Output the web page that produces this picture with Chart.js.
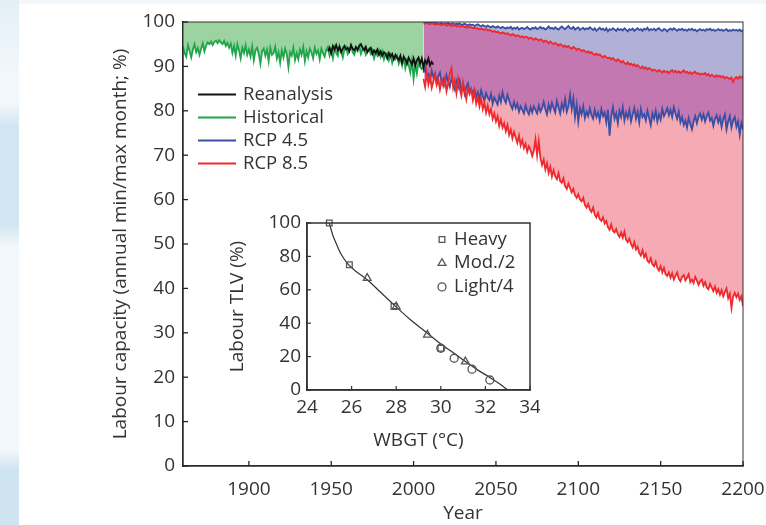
<!DOCTYPE html>
<html><head><meta charset="utf-8">
<script src="https://cdn.jsdelivr.net/npm/chart.js@4.4.1/dist/chart.umd.min.js"></script>
<style>
html,body{margin:0;padding:0;}
body{width:766px;height:525px;position:relative;overflow:hidden;background:#f1f7fb;}
#strip{position:absolute;left:0;top:0;width:19px;height:525px;
 background:linear-gradient(to bottom,#e3eff7 0px,#f1f7fb 70px,#f1f7fb 105px,#d2e6f2 125px,#d2e6f2 225px,#f1f7fb 245px,#f1f7fb 450px,#cfe4f1 470px,#cfe4f1 525px);}
#card{position:absolute;left:19px;top:4px;width:747px;height:521px;background:#fff;}
canvas{position:absolute;}
#main{left:0;top:0;}
#inset{left:220px;top:200px;}
</style></head><body>
<div id="strip"></div>
<div id="card"></div>
<canvas id="main" width="766" height="525"></canvas>
<canvas id="inset" width="320" height="255"></canvas>
<script>
// ---------------- data ----------------
const histStart = 1860;
const historical = [
 94.5,93.0,92.2,94.8,93.5,92.0,93.8,95.0,93.2,94.1,
 92.6,94.0,95.2,93.4,94.6,95.4,95.0,95.6,94.8,95.5,
 95.8,95.2,95.9,95.4,95.0,95.7,94.6,95.3,94.2,95.1,
 93.0,94.6,92.4,95.0,93.6,91.8,94.2,93.0,94.8,92.6,
 93.8,92.2,94.5,91.4,93.6,94.2,92.8,90.6,93.4,94.0,
 92.4,93.8,91.2,94.2,92.6,93.0,94.4,91.8,93.2,90.8,
 93.6,92.0,94.0,92.8,89.8,93.2,92.4,94.2,91.4,93.0,
 91.6,93.8,92.6,94.4,91.2,93.4,92.0,94.0,93.2,91.8,
 94.2,92.8,93.6,91.6,94.0,93.0,92.2,93.8,94.4,92.4,
 93.6,91.8,94.2,93.0,92.4,94.6,93.4,92.0,93.8,94.4,
 92.8,93.6,94.8,93.2,92.6,94.0,93.4,94.6,92.8,93.8,
 94.2,92.6,93.4,94.0,92.8,93.6,91.8,93.2,92.4,93.6,
 92.2,93.4,91.6,92.8,93.0,91.4,92.6,90.8,92.2,91.6,
 92.4,90.6,91.8,90.2,92.0,89.6,91.4,90.4,88.6,91.2,
 87.2,90.6,88.4,91.0,89.8,89.4,90.2
];
const reanStart = 1948;
const reanalysis = [
 93.4,94.2,93.0,94.6,93.8,94.8,93.6,94.4,93.2,94.0,
 94.6,93.8,94.2,93.4,94.8,94.0,93.6,94.4,93.8,94.6,
 95.0,94.2,93.6,94.4,93.2,93.8,94.2,92.8,93.6,93.0,
 93.8,92.6,93.4,92.4,93.2,92.8,91.8,93.0,92.2,92.8,
 91.6,92.6,92.0,91.4,92.4,90.8,92.2,91.6,90.6,92.0,
 91.2,90.4,91.8,90.2,91.4,92.0,90.6,91.8,89.8,91.4,
 90.6,91.8,90.2,91.0,90.4
];
const rcpStart = 2006;
const rcp45Max = [
 99.8,99.9,99.7,99.8,99.9,99.6,99.8,99.7,99.9,99.6,
 99.7,99.8,99.5,99.7,99.6,99.8,99.5,99.6,99.7,99.4,
 99.6,99.5,99.7,99.3,99.5,99.6,99.4,99.2,99.5,99.3,
 99.4,99.1,99.3,99.5,99.2,99.0,99.3,99.1,98.9,99.2,
 99.0,98.8,99.1,98.9,98.7,99.0,98.8,98.6,98.9,98.7,
 98.5,98.8,98.6,98.9,98.4,98.7,98.5,98.8,98.3,98.6,
 98.7,98.4,98.6,98.9,98.5,98.3,98.7,98.5,98.8,98.4,
 98.6,98.9,98.5,98.7,98.3,98.6,99.0,98.5,98.7,98.4,
 98.8,98.5,98.3,98.7,99.0,98.6,98.4,98.8,99.1,98.6,
 98.5,98.9,98.3,98.6,98.8,98.2,98.5,98.7,98.3,98.6,
 98.4,98.8,98.5,98.2,98.6,98.0,98.4,98.7,98.3,98.5,
 98.1,98.6,97.9,98.4,98.2,98.6,98.3,98.0,98.5,98.2,
 98.4,98.1,98.6,98.3,97.9,98.4,98.2,98.5,98.0,98.3,
 98.6,98.2,98.4,98.0,98.5,98.3,98.7,98.1,98.4,98.2,
 98.5,98.1,98.4,98.6,98.2,98.0,98.4,98.3,97.9,98.3,
 98.5,98.2,98.6,98.3,98.0,98.4,98.2,98.5,98.1,98.3,
 98.0,98.4,98.2,98.5,98.1,98.3,97.9,98.2,98.4,98.1,
 98.3,98.0,98.4,98.2,98.5,98.1,98.3,98.0,98.2,98.4,
 98.1,98.3,98.0,98.2,98.4,97.9,98.2,98.0,98.3,98.1,
 98.2,98.0,98.3,97.9,98.2
];
const rcp45Min = [
 88.6,89.8,87.4,88.2,86.8,89.0,87.6,88.4,86.2,87.8,
 88.6,86.4,87.2,85.8,88.0,86.6,85.4,87.4,86.0,84.8,
 86.6,85.2,86.8,84.6,85.6,83.8,85.4,86.2,84.2,85.0,
 83.6,84.8,83.2,84.2,82.6,84.6,83.4,82.2,84.0,83.0,
 82.4,83.8,81.6,83.0,82.2,81.4,83.4,82.0,84.2,82.6,
 81.8,83.6,82.4,81.2,80.4,82.0,80.6,81.6,79.8,81.0,
 80.2,79.4,81.2,80.0,79.2,80.8,79.6,81.0,80.2,79.4,
 81.2,79.8,80.6,82.0,80.4,79.2,81.4,80.0,81.8,80.6,
 79.6,82.2,80.8,79.4,81.6,80.2,82.6,79.8,81.0,83.6,
 80.4,82.8,78.6,81.4,77.6,80.6,79.2,81.0,78.4,79.8,
 78.8,80.6,79.0,78.2,80.2,78.6,79.6,77.8,80.4,78.8,
 79.6,77.4,80.2,74.4,78.8,80.8,78.2,79.4,77.2,80.0,
 78.6,80.8,77.8,79.6,78.4,80.2,77.6,79.2,80.6,78.2,
 79.8,77.4,80.4,78.6,79.2,77.8,80.0,78.4,76.8,79.4,
 78.2,80.0,77.6,79.2,78.0,80.4,78.8,79.6,80.6,79.0,
 80.2,78.6,80.8,79.4,78.2,79.8,77.4,78.6,76.8,77.8,
 76.2,78.4,77.0,75.8,77.6,78.8,77.2,78.6,79.4,78.0,
 79.2,77.6,78.8,79.6,77.8,78.4,76.6,78.2,79.0,77.4,
 78.6,76.4,78.2,79.2,75.8,77.6,78.8,76.2,77.8,78.6,
 76.4,77.6,74.6,77.2,75.8
];
const rcp85Max = [
 99.7,99.6,99.8,99.6,99.5,99.7,99.6,99.4,99.5,99.6,
 99.4,99.3,99.5,99.4,99.2,99.3,99.4,99.1,99.2,99.3,
 99.0,99.1,98.9,99.0,99.2,98.8,98.9,98.7,98.9,98.8,
 98.6,98.7,98.5,98.6,98.3,98.5,98.4,98.2,98.4,98.1,
 98.2,98.0,97.8,98.0,97.7,97.8,97.6,97.4,97.7,97.5,
 97.3,97.5,97.2,97.0,97.3,97.1,96.8,97.0,96.9,96.6,
 96.8,96.5,96.7,96.6,96.2,96.5,96.3,96.0,96.3,96.1,
 95.8,96.1,95.9,95.5,95.8,95.6,95.2,95.6,95.3,95.0,
 95.3,95.0,94.7,95.0,94.8,94.4,94.7,94.3,94.6,94.2,
 94.0,94.4,94.1,93.7,94.0,93.8,93.4,93.7,93.5,93.1,
 93.4,93.0,93.2,92.8,92.6,92.9,92.5,92.7,92.3,92.0,
 92.4,92.1,91.8,92.0,91.6,91.9,91.5,91.2,91.6,91.3,
 90.9,91.2,90.8,90.5,90.9,90.4,90.6,90.2,90.5,90.0,
 90.3,89.9,89.6,90.0,89.5,89.8,89.3,89.6,89.4,89.0,
 89.3,89.1,88.8,89.2,88.9,88.6,89.0,88.7,88.9,88.5,
 88.9,89.2,88.7,89.0,88.6,88.9,88.5,88.8,89.1,88.6,
 88.8,88.4,88.7,88.3,88.6,88.8,88.3,88.5,88.1,88.4,
 88.2,88.5,88.0,88.3,87.8,88.1,87.9,87.6,88.0,87.7,
 87.9,87.5,87.8,87.3,87.6,87.4,87.1,87.5,86.5,87.3,
 87.6,87.2,87.7,87.4,87.8
];
const rcp85Min = [
 87.2,85.4,88.6,86.0,87.8,85.2,86.6,88.2,85.8,87.0,
 84.8,86.8,85.6,87.4,84.4,86.2,88.4,89.6,85.2,86.8,
 84.0,87.2,85.0,83.4,86.4,84.6,82.6,85.2,83.8,84.8,
 82.4,84.4,81.6,83.2,81.0,82.8,80.4,81.8,79.6,81.2,
 79.2,80.4,78.2,79.4,77.6,78.8,76.6,78.0,76.2,77.2,
 75.4,76.8,74.6,75.8,73.8,75.2,74.0,72.8,74.4,72.2,
 73.4,71.6,72.6,70.8,72.0,71.2,69.8,71.0,73.6,70.0,
 73.2,69.4,67.8,69.0,66.8,68.2,66.0,67.4,65.2,66.6,
 65.2,64.6,66.0,64.2,63.8,64.8,63.0,62.4,63.6,62.6,
 61.6,62.4,61.0,60.4,61.2,60.0,59.6,60.4,58.8,58.2,
 59.0,57.8,57.2,58.2,56.6,56.0,57.0,55.6,55.2,56.0,
 54.6,55.2,53.8,53.2,54.4,53.0,52.6,53.4,52.2,51.6,
 52.6,51.4,52.8,51.0,50.4,51.2,50.0,49.2,50.4,48.8,
 49.4,48.0,47.4,48.6,47.0,47.8,46.2,45.8,46.8,45.4,
 45.0,46.0,44.6,44.0,45.0,43.6,44.6,43.2,42.8,43.6,
 42.4,43.4,42.0,42.8,43.6,42.2,41.6,42.6,43.0,41.8,
 42.4,43.2,41.4,42.0,41.2,42.6,41.8,40.8,41.6,42.0,
 40.6,41.4,40.2,39.8,41.0,40.2,39.4,40.4,39.0,39.8,
 38.6,39.6,38.2,39.2,40.0,37.8,38.8,35.6,38.2,39.0,
 38.0,38.8,37.4,38.2,36.0
];
const xTickYears = [1900,1950,2000,2050,2100,2150,2200];
const yTickValues = [0,10,20,30,40,50,60,70,80,90,100];
const seriesNames = ['Reanalysis','Historical','RCP 4.5','RCP 8.5'];

// inset: Labour TLV vs WBGT
const heavyWbgt = [25.0, 25.9, 27.9, 30.0];
const heavyTlv  = [100, 75, 50, 25];
const modWbgt   = [26.7, 28.0, 29.4, 31.1];
const modTlv    = [67, 50, 33, 17];
const lightWbgt = [30.0, 30.6, 31.4, 32.2];
const lightTlv  = [25, 19, 12.5, 6];
const curveWbgt = [25.0,25.15,25.3,25.5,25.8,26.2,26.7,27.3,27.9,28.6,29.4,30.0,30.6,31.1,31.6,32.2,32.6,33.0];
const curveTlv  = [100,93,88,82,76,71,66,58.5,51,42.5,34,27.5,22,17,12.5,7.5,4,0];
const insetNames = ['Heavy','Mod./2','Light/4'];

// ---------------- drawing ----------------
Chart.defaults.font.family = "'Open Sans', 'Noto Sans', sans-serif";
Chart.defaults.color = '#333';
const TEXT = '#333';
const GREEN = '#1fa54b', BLACK = '#111111', BLUE = '#3a4ea3', RED = '#ee2a2e';
const F_GREEN = '#9cd4a1', F_PURPLE = '#c478b2', F_LAV = '#b1b1d7', F_PINK = '#f6aab3';

const series = (start, vals) => vals.map((v, i) => ({x: start + i, y: v}));
const pairs = (xs, ys) => xs.map((x, i) => ({x, y: ys[i]}));

const decor = {
  id: 'decor',
  afterDatasetsDraw(chart, args, o) {
    const {ctx, chartArea: a, scales} = chart;
    ctx.save();
    ctx.strokeStyle = o.boxColor; ctx.lineWidth = o.boxWidth;
    ctx.strokeRect(a.left, a.top, a.right - a.left, a.bottom - a.top);
    ctx.strokeStyle = o.tickColor; ctx.lineWidth = o.tickWidth;
    scales.x.ticks.forEach(t => {
      const p = scales.x.getPixelForValue(t.value);
      ctx.beginPath(); ctx.moveTo(p, a.bottom); ctx.lineTo(p, a.bottom - o.tickLen); ctx.stroke();
    });
    scales.y.ticks.forEach(t => {
      const p = scales.y.getPixelForValue(t.value);
      ctx.beginPath(); ctx.moveTo(a.left, p); ctx.lineTo(a.left + o.tickLen, p); ctx.stroke();
    });
    if (o.legend) {
      const L = o.legend;
      ctx.font = L.fontSize + "px 'Open Sans', 'Noto Sans', sans-serif";
      ctx.textBaseline = 'middle'; ctx.textAlign = 'left';
      L.items.forEach((it, k) => {
        const ds = chart.data.datasets[it];
        const y = L.y + k * L.rowH;
        if (L.kind === 'line') {
          ctx.strokeStyle = ds.borderColor; ctx.lineWidth = 2;
          ctx.beginPath(); ctx.moveTo(L.x, y); ctx.lineTo(L.x + L.lineLen, y); ctx.stroke();
          ctx.fillStyle = L.textColor;
          ctx.fillText(L.names[k], L.x + L.lineLen + L.gap, y);
        } else {
          ctx.strokeStyle = ds.borderColor; ctx.lineWidth = ds.borderWidth;
          ctx.fillStyle = 'rgba(255,255,255,0)';
          Chart.helpers.drawPoint(ctx, {pointStyle: ds.pointStyle, radius: ds.pointRadius, rotation: 0, borderWidth: ds.borderWidth}, L.x, y);
          ctx.fillStyle = L.textColor;
          ctx.fillText(L.names[k], L.x + L.gap, y);
        }
      });
    }
    ctx.restore();
  }
};

new Chart(document.getElementById('main'), {
  type: 'line',
  data: {
    datasets: [
      {label: seriesNames[0], data: series(reanStart, reanalysis), borderColor: BLACK, fill: false},
      {label: seriesNames[1], data: series(histStart, historical), borderColor: GREEN, fill: 'end', backgroundColor: F_GREEN},
      {label: seriesNames[3] + ' min', data: series(rcpStart, rcp85Min), borderColor: RED, fill: false},
      {label: seriesNames[2] + ' min', data: series(rcpStart, rcp45Min), borderColor: BLUE,
        fill: {target: 2, above: F_PINK, below: F_LAV}},
      {label: seriesNames[3] + ' max', data: series(rcpStart, rcp85Max), borderColor: RED,
        fill: {target: 3, above: F_PURPLE, below: F_PURPLE}},
      {label: seriesNames[2] + ' max', data: series(rcpStart, rcp45Max), borderColor: BLUE,
        fill: {target: 4, above: F_LAV, below: F_PINK}}
    ]
  },
  options: {
    responsive: false, animation: false, devicePixelRatio: 1,
    layout: {padding: {left: 100, top: 22, right: 23, bottom: 0}},
    elements: {point: {radius: 0}, line: {borderWidth: 1.8, tension: 0}},
    plugins: {
      legend: {display: false}, tooltip: {enabled: false},
      decor: {boxColor: '#333', boxWidth: 1, tickColor: '#222', tickWidth: 1.3, tickLen: 5,
        legend: {kind: 'line', items: [0, 1, 5, 4], names: seriesNames, x: 198, y: 94.5, rowH: 23,
          lineLen: 38, gap: 7, fontSize: 18.5, textColor: TEXT}}
    },
    scales: {
      x: {type: 'linear', min: 1860, max: 2200,
        afterBuildTicks: s => { s.ticks = xTickYears.map(v => ({value: v})); },
        afterFit: s => { s.height = 59; s.paddingRight = 0; s.paddingLeft = 0; },
        grid: {display: false, drawTicks: false},
        border: {display: true, color: '#222', width: 1.5},
        ticks: {font: {size: 19}, color: TEXT, padding: 12, maxRotation: 0, autoSkip: false, callback: v => String(v)},
        title: {display: true, text: 'Year', font: {size: 19}, color: TEXT, padding: {top: 0, bottom: 0}}
      },
      y: {min: 0, max: 100,
        afterBuildTicks: s => { s.ticks = yTickValues.map(v => ({value: v})); },
        afterFit: s => { s.width = 83; },
        grid: {display: false, drawTicks: false},
        border: {display: true, color: '#222', width: 1.5},
        ticks: {font: {size: 19}, color: TEXT, padding: 8, callback: v => String(v)},
        title: {display: true, text: 'Labour capacity (annual min/max month; %)', font: {size: 19}, color: TEXT, padding: {top: 9, bottom: 0}}
      }
    }
  },
  plugins: [decor]
});

const MK = '#555';
new Chart(document.getElementById('inset'), {
  type: 'scatter',
  data: {
    datasets: [
      {label: insetNames[0], data: pairs(heavyWbgt, heavyTlv), pointStyle: 'rect', pointRadius: 4, borderColor: MK, borderWidth: 1.3, backgroundColor: 'rgba(255,255,255,0)', clip: false},
      {label: insetNames[1], data: pairs(modWbgt, modTlv), pointStyle: 'triangle', pointRadius: 4.5, borderColor: MK, borderWidth: 1.3, backgroundColor: 'rgba(255,255,255,0)', clip: false},
      {label: insetNames[2], data: pairs(lightWbgt, lightTlv), pointStyle: 'circle', pointRadius: 4, borderColor: MK, borderWidth: 1.3, backgroundColor: 'rgba(255,255,255,0)', clip: false},
      {type: 'line', label: 'fit', data: pairs(curveWbgt, curveTlv), borderColor: '#333', borderWidth: 1.2, pointRadius: 0, tension: 0.4, cubicInterpolationMode: 'monotone', fill: false}
    ]
  },
  options: {
    responsive: false, animation: false, devicePixelRatio: 1,
    layout: {padding: {left: 0, top: 23, right: 10, bottom: 0}},
    plugins: {
      legend: {display: false}, tooltip: {enabled: false},
      decor: {boxColor: '#333', boxWidth: 1.5, tickColor: '#333', tickWidth: 1.2, tickLen: 4,
        legend: {kind: 'marker', items: [0, 1, 2], names: insetNames, x: 222, y: 39.5, rowH: 23.7, gap: 12, fontSize: 18.5, textColor: TEXT}}
    },
    scales: {
      x: {type: 'linear', min: 24, max: 34,
        afterFit: s => { s.height = 65; s.paddingRight = 0; s.paddingLeft = 0; },
        grid: {display: false, drawTicks: false},
        border: {display: true, color: '#333', width: 1.5},
        ticks: {stepSize: 2, font: {size: 19}, color: TEXT, padding: 6, maxRotation: 0},
        title: {display: true, text: 'WBGT (°C)', font: {size: 19}, color: TEXT, padding: {top: 0, bottom: 3}}
      },
      y: {min: 0, max: 100,
        afterFit: s => { s.width = 87; },
        grid: {display: false, drawTicks: false},
        border: {display: true, color: '#333', width: 1.5},
        ticks: {stepSize: 20, font: {size: 19}, color: TEXT, padding: 6},
        title: {display: true, text: 'Labour TLV (%)', font: {size: 19}, color: TEXT, padding: {top: 6, bottom: 0}}
      }
    }
  },
  plugins: [decor]
});
</script>
</body></html>
